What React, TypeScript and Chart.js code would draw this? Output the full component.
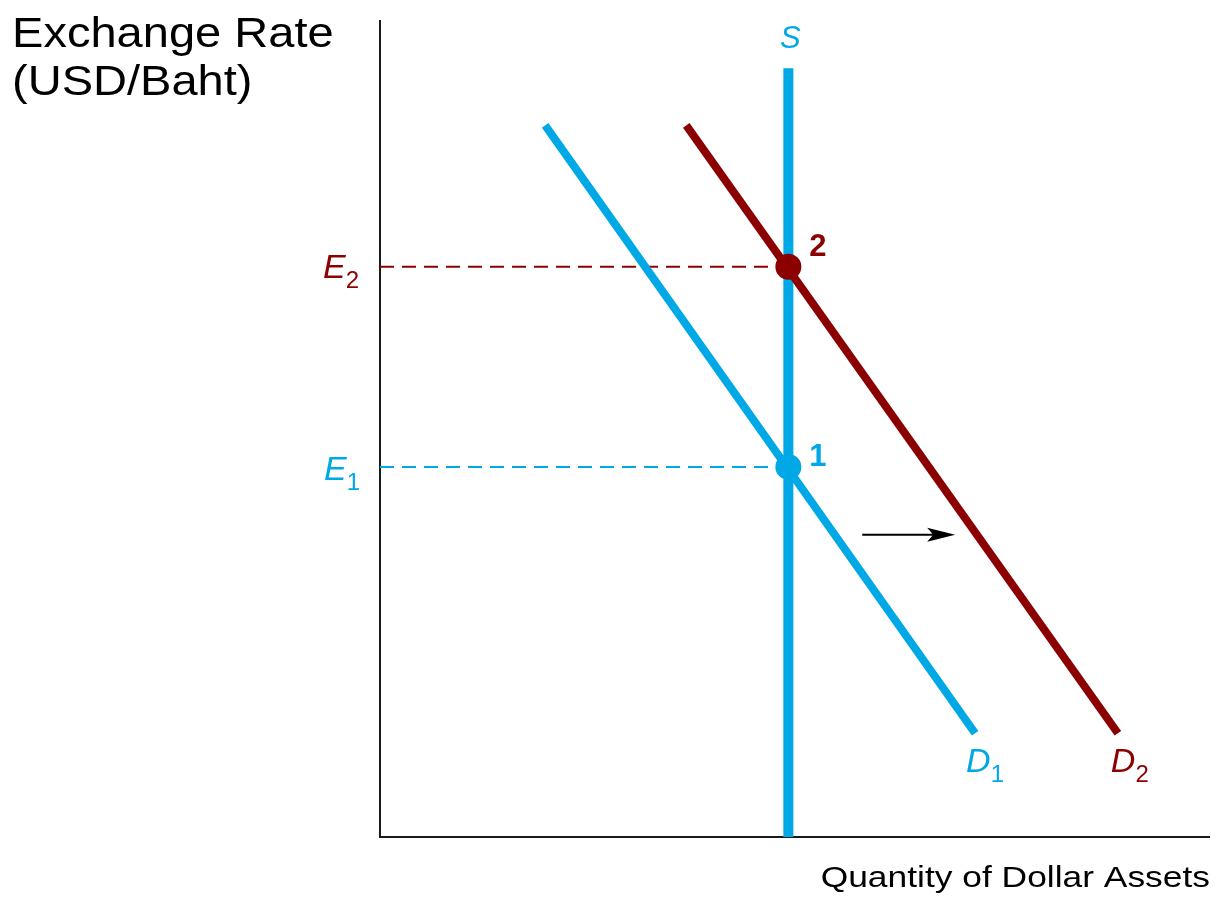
import React, { useEffect, useRef } from "react";
import { Chart, registerables } from "chart.js";

Chart.register(...registerables);

// ---- data (arbitrary model units, 0..10 on both axes) ----
const supplyX = [4.92, 4.92];
const supplyY = [0, 9.41];
const demand1X = [1.99, 7.17];
const demand1Y = [8.71, 1.27];
const demand2X = [3.69, 8.89];
const demand2Y = [8.71, 1.27];
const equilibriumX = 4.92;
const rateE1 = 4.53;
const rateE2 = 6.98;
const shiftArrowX = [5.81, 6.93];
const shiftArrowY = 3.7;

const axisTitleY = ["Exchange Rate", "(USD/Baht)"];
const axisTitleX = "Quantity of Dollar Assets";

const BLUE = "#00a9e6";
const RED = "#8b0000";
const FONT = "'Liberation Sans', Arial, Helvetica, sans-serif";

const pts = (xs: number[], ys: number[]) => xs.map((x, i) => ({ x, y: ys[i] }));

// draw text with a horizontal stretch
const fitText = (ctx: any, text: string, x: number, y: number, font: string, stretch: number, align: "left" | "right") => {
  ctx.save();
  ctx.font = font;
  ctx.textAlign = "left";
  const w = ctx.measureText(text).width * stretch;
  const left = align === "left" ? x : x - w;
  ctx.translate(left, y);
  ctx.scale(stretch, 1);
  ctx.fillText(text, 0, 0);
  ctx.restore();
};

const overlay = {
  id: "overlay",
  beforeDatasetsDraw(chart: any) {
    const { ctx, chartArea } = chart;
    ctx.save();
    ctx.strokeStyle = "#1a1a1a";
    ctx.lineWidth = 2;
    ctx.beginPath();
    ctx.moveTo(chartArea.left, chartArea.top);
    ctx.lineTo(chartArea.left, chartArea.bottom);
    ctx.lineTo(chartArea.right, chartArea.bottom);
    ctx.stroke();
    ctx.restore();
  },
  afterDatasetsDraw(chart: any) {
    const { ctx, chartArea, scales } = chart;
    const xs = scales.x;
    const ys = scales.y;
    ctx.save();
    ctx.textBaseline = "alphabetic";

    // Axis titles
    ctx.fillStyle = "#000";
    fitText(ctx, axisTitleY[0], 12, 47, `42px ${FONT}`, 1.12, "left");
    fitText(ctx, axisTitleY[1], 12, 95, `42px ${FONT}`, 1.12, "left");
    fitText(ctx, axisTitleX, chartArea.right, 887, `29px ${FONT}`, 1.22, "right");

    const subLabel = (main: string, sub: string, x: number, y: number, color: string) => {
      ctx.fillStyle = color;
      ctx.textAlign = "left";
      ctx.font = `italic 34px ${FONT}`;
      ctx.fillText(main, x, y);
      const w = ctx.measureText(main).width;
      ctx.font = `24px ${FONT}`;
      ctx.fillText(sub, x + w, y + 10);
    };

    // E labels
    subLabel("E", "2", chartArea.left - 57, ys.getPixelForValue(rateE2) + 11, RED);
    subLabel("E", "1", chartArea.left - 56, ys.getPixelForValue(rateE1) + 13, BLUE);

    // D labels
    subLabel("D", "1", xs.getPixelForValue(demand1X[1]) - 9, ys.getPixelForValue(demand1Y[1]) + 39, BLUE);
    subLabel("D", "2", xs.getPixelForValue(demand2X[1]) - 7, ys.getPixelForValue(demand2Y[1]) + 39, RED);

    // S label
    ctx.fillStyle = BLUE;
    ctx.font = `italic 31px ${FONT}`;
    ctx.textAlign = "center";
    ctx.fillText("S", xs.getPixelForValue(supplyX[1]) + 2, 48);

    // Equilibrium numbers
    const ex = xs.getPixelForValue(equilibriumX);
    ctx.font = `bold 31px ${FONT}`;
    ctx.textAlign = "left";
    ctx.fillStyle = RED;
    ctx.fillText("2", ex + 21, ys.getPixelForValue(rateE2) - 11);
    ctx.fillStyle = BLUE;
    ctx.fillText("1", ex + 21, ys.getPixelForValue(rateE1) - 1);

    // Shift arrow
    const ax0 = xs.getPixelForValue(shiftArrowX[0]);
    const ax1 = xs.getPixelForValue(shiftArrowX[1]);
    const ay = ys.getPixelForValue(shiftArrowY);
    ctx.strokeStyle = "#000";
    ctx.fillStyle = "#000";
    ctx.lineWidth = 2;
    ctx.beginPath();
    ctx.moveTo(ax0, ay);
    ctx.lineTo(ax1 - 15, ay);
    ctx.stroke();
    ctx.beginPath();
    ctx.moveTo(ax1, ay);
    ctx.lineTo(ax1 - 28, ay - 7);
    ctx.lineTo(ax1 - 22, ay);
    ctx.lineTo(ax1 - 28, ay + 7);
    ctx.closePath();
    ctx.fill();
    ctx.restore();
  },
};

export default function App() {
  const ref = useRef<HTMLCanvasElement | null>(null);
  useEffect(() => {
    document.body.style.margin = "0";
    document.body.style.overflow = "hidden";
    document.documentElement.style.overflow = "hidden";
    if (!ref.current) return;
    const line = (data: any[], color: string, width: number, order: number, dash: number[] = []) => ({
      data,
      borderColor: color,
      backgroundColor: color,
      borderWidth: width,
      borderDash: dash,
      borderCapStyle: "butt",
      pointRadius: 0,
      showLine: true,
      fill: false,
      order,
    });
    const dot = (y: number, color: string) => ({
      data: [{ x: equilibriumX, y }],
      showLine: false,
      pointRadius: 13,
      pointBackgroundColor: color,
      pointBorderWidth: 0,
      borderColor: color,
      order: 0,
    });
    const chart = new Chart(ref.current, {
      type: "line",
      data: {
        datasets: [
          line(pts([0, equilibriumX], [rateE2, rateE2]), RED, 2, 7, [14, 8]),
          line(pts([0, equilibriumX], [rateE1, rateE1]), BLUE, 2, 7, [14, 8]),
          line(pts(supplyX, supplyY), BLUE, 10, 6),
          line(pts(demand1X, demand1Y), BLUE, 8, 5),
          line(pts(demand2X, demand2Y), RED, 8, 4),
          dot(rateE2, RED),
          dot(rateE1, BLUE),
        ] as any,
      },
      options: {
        animation: false,
        responsive: false,
        layout: { autoPadding: false, padding: { left: 380, right: 5, top: 20, bottom: 61 } },
        plugins: { legend: { display: false }, tooltip: { enabled: false }, title: { display: false } },
        scales: {
          x: { type: "linear", min: 0, max: 10, display: false },
          y: { type: "linear", min: 0, max: 10, display: false },
        },
        events: [],
      },
      plugins: [overlay],
    });
    return () => chart.destroy();
  }, []);
  return (
    <div style={{ width: 1215, height: 898, background: "#fff", overflow: "hidden" }}>
      <canvas ref={ref} width={1215} height={898} style={{ display: "block" }} />
    </div>
  );
}
